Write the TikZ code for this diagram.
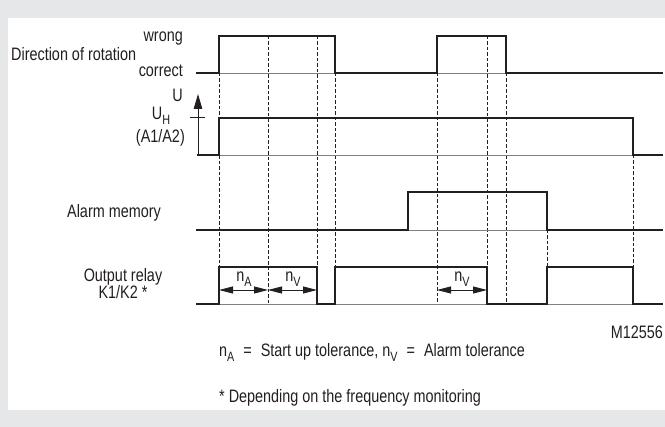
\documentclass[tikz,border=0pt]{standalone}
\usepackage{fontspec}
\setmainfont{Liberation Sans}[FakeStretch=0.8]
\usetikzlibrary{arrows.meta}
\definecolor{framec}{HTML}{E6E7E8}
\definecolor{sigc}{HTML}{231F20}
\definecolor{zeroc}{HTML}{808080}
\newcommand\lowsub[1]{\raisebox{-0.26em}{\fontsize{13.5}{14}\selectfont #1}}
\begin{document}
\begin{tikzpicture}[x=1pt,y=-1pt,
  sig/.style={line width=2.5pt, draw=sigc, line join=miter, line cap=rect},
  zeroline/.style={line width=0.9pt, draw=zeroc},
  guide/.style={line width=0.9pt, draw=sigc, dash pattern=on 3.5pt off 2pt},
  lbl/.style={font=\fontsize{18}{20}\selectfont, inner sep=0pt, text=sigc},
  dimarrow/.style={line width=0.9pt, draw=sigc, {Triangle[length=14pt,width=7pt]}-{Triangle[length=14pt,width=7pt]}},
  axisarrow/.style={line width=1pt, draw=sigc, -{Triangle[length=15pt,width=8.5pt]}}
]
% frame
\fill[framec] (0,0) rectangle (665,427);
\fill[white] (8,18) rectangle (665,410);
\useasboundingbox (0,0) rectangle (665,427);

% dashed guides
\draw[guide] (219,73) -- (219,267);
\draw[guide] (268,36) -- (268,304);
\draw[guide] (317,36) -- (317,267);
\draw[guide] (335,73) -- (335,267);
\draw[guide] (437,73) -- (437,304);
\draw[guide] (487,36) -- (487,267);
\draw[guide] (506,73) -- (506,304);
\draw[guide] (547,230) -- (547,267);
\draw[guide] (633,155) -- (633,267);

% zero lines
\draw[zeroline] (197,73) -- (662,73);
\draw[zeroline] (197,155) -- (662,155);
\draw[zeroline] (197,230) -- (662,230);
\draw[zeroline] (197,304) -- (662,304);

% Direction of rotation
\draw[sig] (197,73) -- (219,73) -- (219,36) -- (335,36) -- (335,73) -- (437,73) -- (437,36) -- (506,36) -- (506,73) -- (662,73);
% U_H (A1/A2)
\draw[sig] (198,155) -- (219,155) -- (219,118) -- (633,118) -- (633,155) -- (662,155);
% Alarm memory
\draw[sig] (197,230) -- (408,230) -- (408,192) -- (547,192) -- (547,230) -- (662,230);
% Output relay
\draw[sig] (197,304) -- (219,304) -- (219,267) -- (317,267) -- (317,304) -- (335,304) -- (335,267) -- (487,267) -- (487,304) -- (547,304) -- (547,267) -- (633,267) -- (633,304) -- (662,304);

% U axis
\coordinate (ubot) at (198,155);
\coordinate (utop) at (198,94);
\draw[axisarrow] (ubot) -- (utop);
\coordinate (tickl) at (190,118);
\coordinate (tickr) at (205,118);
\draw[line width=1pt, draw=sigc] (tickl) -- (tickr);

% dimension arrows
\coordinate (d1) at (219,290);
\coordinate (d2) at (268,290);
\coordinate (d3) at (317,290);
\coordinate (d4) at (437,290);
\coordinate (d5) at (487,290);
\draw[dimarrow] (d1) -- (d2);
\draw[dimarrow] (d2) -- (d3);
\draw[dimarrow] (d4) -- (d5);
\node[lbl, anchor=base] (nA) at (244,282) {n\lowsub{A}};
\node[lbl, anchor=base] (nV1) at (293,282) {n\lowsub{V}};
\node[lbl, anchor=base] (nV2) at (462,282) {n\lowsub{V}};

% labels
\node[lbl, anchor=base west] (dir) at (11,61) {Direction of rotation};
\node[lbl, anchor=base east] (wrong) at (183,42) {wrong};
\node[lbl, anchor=base east] (correct) at (183,77) {correct};
\node[lbl, anchor=base east] (U) at (183,102) {U};
\node[lbl, anchor=base] (UH) at (161,120) {U\lowsub{H}};
\node[lbl, anchor=base east] (A12) at (185,143) {(A1/A2)};
\node[lbl, anchor=base east] (alarm) at (161,218) {Alarm memory};
\node[lbl, anchor=base] (relay) at (123,282) {Output relay};
\node[lbl, anchor=base] (K12) at (123,299) {K1/K2 *};
\node[lbl, anchor=base east] (code) at (663,339) {M12556};
\node[lbl, anchor=base west] (legend) at (219,357) {n\lowsub{A}\enspace=\enspace Start up tolerance, n\lowsub{V}\enspace=\enspace Alarm tolerance};
\node[lbl, anchor=base west] (note) at (219,403) {* Depending on the frequency monitoring};
\end{tikzpicture}
\end{document}
